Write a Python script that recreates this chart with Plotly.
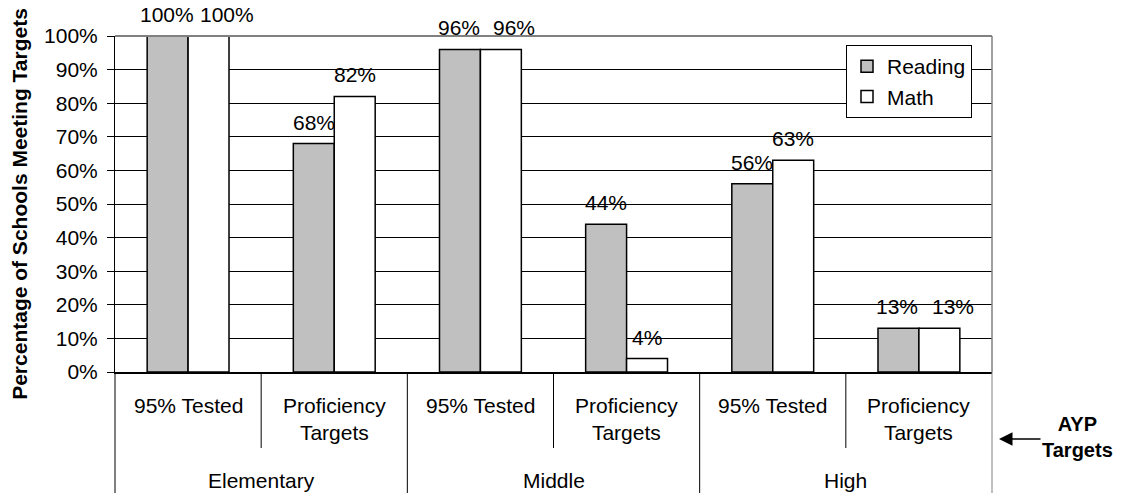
import plotly.graph_objects as go

# ---- data ----
levels = ["Elementary", "Middle", "High"]
targets = ["95% Tested", "Proficiency<br>Targets"]
reading = [100, 68, 96, 44, 56, 13]
math = [100, 82, 96, 4, 63, 13]
y_tickvals = list(range(0, 101, 10))
y_ticktext = [f"{v}%" for v in y_tickvals]

cats = [f"{lv}|{t}" for lv in levels for t in targets]
inner_labels = [t for lv in levels for t in targets]
n = len(cats)

GRAY = "#C0C0C0"
FRAME = "#808080"
FONT = "Arial, 'Liberation Sans', sans-serif"
FS = 21

fig = go.Figure()
fig.add_bar(x=cats, y=reading, name="Reading",
            marker=dict(color=GRAY, line=dict(color="black", width=1.5)))
fig.add_bar(x=cats, y=math, name="Math",
            marker=dict(color="white", line=dict(color="black", width=1.5)))

bargap = 0.44
half = (1 - bargap) / 4  # centre offset of each bar within its group

ann = []
# data labels
for i, (r, m) in enumerate(zip(reading, math)):
    same = abs(r - m) < 5
    rt, mt = f"{r}%", f"{m}%"
    ann.append(dict(x=i - half, y=r, xref="x", yref="y", text=rt,
                    showarrow=False, yanchor="bottom", yshift=8,
                    xshift=-1 if same else 0,
                    font=dict(family=FONT, size=FS, color="black")))
    ann.append(dict(x=i + half, y=m, xref="x", yref="y", text=mt,
                    showarrow=False, yanchor="bottom", yshift=8,
                    xshift=4.5 * len(mt) if same else 0,
                    font=dict(family=FONT, size=FS, color="black")))

# plot-area geometry in pixels (for paper conversions of the category band)
top_px, bottom_px = 36, 372
ph = bottom_px - top_px
def py(px):
    return (bottom_px - px) / ph

# inner category labels
for i, lab in enumerate(inner_labels):
    two = "<br>" in lab
    ann.append(dict(x=cats[i], y=py(418.5 if two else 405), xref="x", yref="paper",
                    text=lab, showarrow=False, xanchor="center", yanchor="middle",
                    font=dict(family=FONT, size=FS, color="black")))
# outer category labels
for j, lv in enumerate(levels):
    ann.append(dict(x=(2 * j + 1) / n, y=py(480), xref="paper", yref="paper",
                    text=lv, showarrow=False, xanchor="center", yanchor="middle",
                    font=dict(family=FONT, size=FS, color="black")))

# AYP Targets note with arrow
ann.append(dict(x=(1077 - 115) / 877, y=py(437), xref="paper", yref="paper",
                text="<b>AYP<br>Targets</b>", showarrow=False,
                xanchor="center", yanchor="middle",
                font=dict(family=FONT, size=20, color="black")))
ann.append(dict(x=(999 - 115) / 877, y=py(439), xref="paper", yref="paper",
                text="", showarrow=True, ax=43, ay=0, axref="pixel", ayref="pixel",
                arrowhead=2, arrowsize=1.8, arrowwidth=1.5, arrowcolor="black"))

shapes = []
# dividers in the category band
for k in range(n + 1):
    outer = (k % 2 == 0)
    color = FRAME if k == n else "black"
    shapes.append(dict(type="line", xref="paper", yref="paper",
                       x0=k / n, x1=k / n, y0=0, y1=py(493 if outer else 448),
                       line=dict(color=color, width=1)))
# plot frame top and right (grey)
shapes.append(dict(type="line", xref="paper", yref="paper", x0=0, x1=1, y0=1, y1=1,
                   line=dict(color=FRAME, width=2), layer="above"))
shapes.append(dict(type="line", xref="paper", yref="paper", x0=1, x1=1, y0=0, y1=1,
                   line=dict(color=FRAME, width=1.5), layer="above"))

fig.update_layout(
    width=1133, height=496,
    margin=dict(l=115, r=141, t=36, b=124),
    paper_bgcolor="white", plot_bgcolor="white",
    barmode="group", bargap=bargap, bargroupgap=0,
    font=dict(family=FONT, size=FS, color="black"),
    showlegend=True,
    legend=dict(x=(972 - 115) / 877, xanchor="right", y=py(45), yanchor="top",
                bgcolor="white", bordercolor="black", borderwidth=1,
                font=dict(family=FONT, size=FS, color="black"),
                tracegroupgap=0),
    annotations=ann, shapes=shapes,
)
fig.update_xaxes(type="category", showticklabels=False, ticks="",
                 showline=True, linecolor="black", linewidth=2,
                 showgrid=False, zeroline=False)
fig.update_yaxes(range=[0, 100], tickmode="array", tickvals=y_tickvals, ticktext=y_ticktext,
                 ticks="outside", ticklen=7, tickcolor="black", tickwidth=1,
                 ticklabelstandoff=5,
                 tickfont=dict(family=FONT, size=FS, color="black"),
                 showline=True, linecolor="black", linewidth=1,
                 showgrid=True, gridcolor="black", gridwidth=1, zeroline=False,
                 title=dict(text="Percentage of Schools Meeting Targets",
                            font=dict(family=FONT, size=FS, color="black", weight="bold"),
                            standoff=10))

fig.write_html("out.html",
               config={"displayModeBar": False},
               post_script="document.body.style.margin='0';document.body.style.overflow='hidden';")
